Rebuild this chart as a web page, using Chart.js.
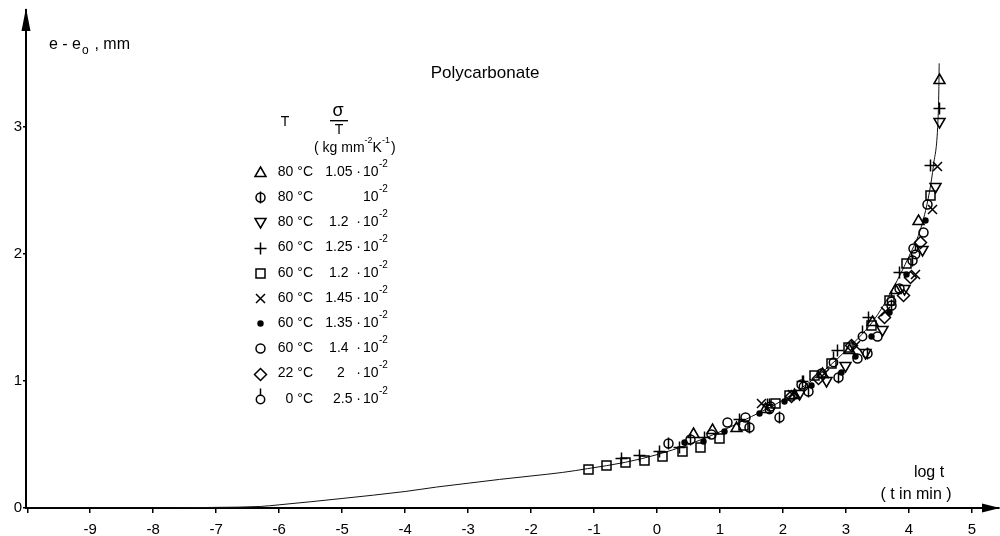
<!DOCTYPE html>
<html>
<head>
<meta charset="utf-8">
<script src="https://cdn.jsdelivr.net/npm/chart.js@4.4.0/dist/chart.umd.min.js"></script>
<style>
html, body { margin: 0; padding: 0; background: #fff; }
#wrap { width: 1000px; height: 536px; }
</style>
</head>
<body>
<div id="wrap"><canvas id="creep" width="1000" height="536"></canvas></div>
<script>
// master curve drawn through the points (log t, e - e0)
const curveLogT = [-10, -8, -7, -6.3, -6, -5, -4, -3.5, -3, -2.5, -2, -1.5, -1.1, -0.5, 0, 0.5, 1, 1.5, 2, 2.5, 3, 3.5, 4, 4.2, 4.33, 4.39, 4.46, 4.475, 4.48];
const curveVal  = [0, 0, 0.005, 0.012, 0.025, 0.075, 0.13, 0.165, 0.195, 0.225, 0.252, 0.28, 0.31, 0.36, 0.42, 0.5, 0.6, 0.72, 0.85, 1.02, 1.24, 1.52, 1.98, 2.22, 2.5, 2.7, 3.04, 3.3, 3.5];

// measured points, [log t, e - e0]
const triUp80   = [[0.57,0.59],[0.87,0.62],[1.25,0.64],[1.72,0.79],[2.18,0.9],[2.62,1.06],[3.05,1.25],[3.42,1.47],[3.78,1.72],[4.15,2.27],[4.47,3.38]];
const phi80     = [[0.18,0.51],[0.52,0.54],[1.46,0.64],[1.93,0.72],[2.4,0.92],[2.88,1.03],[3.33,1.22],[3.72,1.6],[4.05,1.95]];
const triDown80 = [[2.25,0.9],[2.69,1.0],[2.99,1.12],[3.3,1.22],[3.57,1.4],[3.92,1.72],[4.2,2.03],[4.41,2.53],[4.48,3.04]];
const plus60    = [[-0.57,0.39],[-0.29,0.42],[0.03,0.45],[0.35,0.48],[0.74,0.56],[1.3,0.7],[1.75,0.82],[2.3,1.0],[2.85,1.24],[3.35,1.5],[3.85,1.86],[4.34,2.7],[4.48,3.15]];
const square60  = [[-1.09,0.31],[-0.81,0.34],[-0.51,0.36],[-0.2,0.38],[0.08,0.41],[0.4,0.45],[0.68,0.48],[0.98,0.55],[1.36,0.65],[1.88,0.83],[2.09,0.89],[2.49,1.05],[2.77,1.14],[3.04,1.27],[3.39,1.44],[3.68,1.64],[3.96,1.93],[4.33,2.46]];
const cross60   = [[1.65,0.83],[2.15,0.9],[2.65,1.06],[3.15,1.28],[3.62,1.55],[4.1,1.84],[4.37,2.35],[4.44,2.69]];
const dot60     = [[0.43,0.52],[0.73,0.53],[1.06,0.61],[1.62,0.75],[2.02,0.84],[2.45,0.97],[2.92,1.07],[3.15,1.2],[3.39,1.35],[3.68,1.54],[3.96,1.84],[4.26,2.27]];
const circle60  = [[0.86,0.58],[1.11,0.68],[1.39,0.72],[1.8,0.8],[2.28,0.98],[2.6,1.06],[3.17,1.18],[3.49,1.35],[3.84,1.73],[4.07,2.05],[4.23,2.17],[4.28,2.39]];
const diamond22 = [[2.12,0.88],[2.55,1.02],[3.08,1.28],[3.6,1.5],[3.91,1.68],[4.02,1.82],[4.18,2.09]];
const stem0     = [[1.78,0.78],[2.32,0.96],[2.8,1.15],[3.26,1.35],[3.72,1.63],[4.1,2.0]];

const seriesKinds  = ['tri', 'phi', 'invtri', 'plus', 'square', 'times', 'dot', 'circle', 'diamond', 'stem'];
const seriesPoints = [triUp80, phi80, triDown80, plus60, square60, cross60, dot60, circle60, diamond22, stem0];
const legendTemps  = ['80 °C', '80 °C', '80 °C', '60 °C', '60 °C', '60 °C', '60 °C', '60 °C', '22 °C', '0 °C'];
const legendCoefs  = ['1.05 ·', '', '1.2  ·', '1.25 ·', '1.2  ·', '1.45 ·', '1.35 ·', '1.4  ·', '2   ·', '2.5 ·'];

const FONT = "'Liberation Sans', Arial, sans-serif";
const INK = '#000';

function drawShape(ctx, kind, x, y) {
  ctx.save();
  ctx.strokeStyle = INK;
  ctx.fillStyle = INK;
  ctx.lineWidth = 1.5;
  ctx.beginPath();
  switch (kind) {
    case 'tri':
      ctx.moveTo(x, y - 5.5); ctx.lineTo(x + 5.5, y + 4); ctx.lineTo(x - 5.5, y + 4); ctx.closePath(); ctx.stroke();
      break;
    case 'invtri':
      ctx.moveTo(x, y + 5.5); ctx.lineTo(x + 5.5, y - 4); ctx.lineTo(x - 5.5, y - 4); ctx.closePath(); ctx.stroke();
      break;
    case 'phi':
      ctx.arc(x, y, 4.5, 0, Math.PI * 2); ctx.stroke();
      ctx.beginPath(); ctx.moveTo(x, y - 6); ctx.lineTo(x, y + 6); ctx.stroke();
      break;
    case 'plus':
      ctx.moveTo(x - 6, y); ctx.lineTo(x + 6, y); ctx.moveTo(x, y - 6); ctx.lineTo(x, y + 6); ctx.stroke();
      break;
    case 'square':
      ctx.rect(x - 4.5, y - 4.5, 9, 9); ctx.stroke();
      break;
    case 'times':
      ctx.moveTo(x - 4.5, y - 4.5); ctx.lineTo(x + 4.5, y + 4.5);
      ctx.moveTo(x + 4.5, y - 4.5); ctx.lineTo(x - 4.5, y + 4.5); ctx.stroke();
      break;
    case 'dot':
      ctx.arc(x, y, 3.2, 0, Math.PI * 2); ctx.fill();
      break;
    case 'circle':
      ctx.arc(x, y, 4.5, 0, Math.PI * 2); ctx.stroke();
      break;
    case 'diamond':
      ctx.moveTo(x, y - 6); ctx.lineTo(x + 6, y); ctx.lineTo(x, y + 6); ctx.lineTo(x - 6, y); ctx.closePath(); ctx.stroke();
      break;
    case 'stem':
      ctx.arc(x, y, 4.2, 0, Math.PI * 2); ctx.stroke();
      ctx.beginPath(); ctx.moveTo(x, y - 4.2); ctx.lineTo(x, y - 11); ctx.stroke();
      break;
  }
  ctx.restore();
}

function text(ctx, s, x, y, size, align) {
  ctx.font = size + 'px ' + FONT;
  ctx.textAlign = align || 'left';
  ctx.fillText(s, x, y);
  return ctx.measureText(s).width;
}

// markers drawn at the pixel positions that Chart.js computed for each point
const markers = {
  id: 'markers',
  afterDatasetsDraw(chart) {
    const ctx = chart.ctx;
    chart.data.datasets.forEach((ds, i) => {
      if (!ds.kind) return;
      chart.getDatasetMeta(i).data.forEach(pt => {
        drawShape(ctx, ds.kind, Math.round(pt.x) + 0.5, Math.round(pt.y) + 0.5);
      });
    });
  }
};

const decorations = {
  id: 'decorations',
  afterDraw(chart) {
    const ctx = chart.ctx;
    const area = chart.chartArea;
    ctx.save();
    ctx.fillStyle = INK;
    ctx.textBaseline = 'middle';

    // axis arrows
    ctx.beginPath();
    ctx.moveTo(area.left, 8); ctx.lineTo(area.left + 4.5, 31); ctx.lineTo(area.left - 4.5, 31); ctx.closePath(); ctx.fill();
    ctx.beginPath();
    ctx.moveTo(1000, area.bottom); ctx.lineTo(982, area.bottom - 4.5); ctx.lineTo(982, area.bottom + 4.5); ctx.closePath(); ctx.fill();

    // axis titles
    let w = text(ctx, 'e - e', 49, 45, 16);
    text(ctx, 'o', 49 + w + 1, 51, 12);
    text(ctx, ' , mm', 49 + w + 9, 45, 16);
    text(ctx, 'log t', 929, 473, 16, 'center');
    text(ctx, '( t in min )', 916, 495, 16, 'center');

    text(ctx, 'Polycarbonate', 485, 73, 17, 'center');

    // legend header
    text(ctx, 'T', 285, 122, 14, 'center');
    text(ctx, 'σ', 338, 111, 18, 'center');
    ctx.fillRect(330, 120, 18, 1.4);
    text(ctx, 'T', 339, 130, 14, 'center');
    let x = 314;
    x += text(ctx, '( kg mm', x, 148, 14);
    x += text(ctx, '-2', x, 141, 9);
    x += text(ctx, 'K', x, 148, 14);
    x += text(ctx, '-1', x, 141, 9);
    text(ctx, ')', x + 1, 148, 14);

    // legend rows
    seriesKinds.forEach((kind, i) => {
      const y = 172 + i * 25.2;
      drawShape(ctx, kind, 260.5, Math.round(y) + 0.5);
      text(ctx, legendTemps[i], 313, y, 14, 'right');
      if (legendCoefs[i]) text(ctx, legendCoefs[i], 361, y, 14, 'right');
      text(ctx, '10', 363, y, 14);
      text(ctx, '-2', 379, y - 8, 10);
    });
    ctx.restore();
  }
};

const datasets = [{
  type: 'line',
  label: 'curve',
  data: curveLogT.map((x, i) => ({ x: x, y: curveVal[i] })),
  borderColor: '#111',
  borderWidth: 1,
  pointRadius: 0,
  cubicInterpolationMode: 'monotone',
  fill: false,
  order: 20
}];

seriesKinds.forEach((kind, i) => {
  datasets.push({
    label: legendTemps[i] + ' ' + legendCoefs[i] + '10^-2',
    kind: kind,
    data: seriesPoints[i].map(p => ({ x: p[0], y: p[1] })),
    pointRadius: 0,
    pointHoverRadius: 0,
    showLine: false,
    order: i
  });
});

new Chart(document.getElementById('creep'), {
  type: 'scatter',
  data: { datasets: datasets },
  options: {
    responsive: false,
    animation: false,
    devicePixelRatio: 1,
    layout: { padding: { top: 10, right: 1, left: 0, bottom: 0 } },
    plugins: {
      legend: { display: false },
      tooltip: { enabled: false }
    },
    scales: {
      x: {
        type: 'linear',
        min: -10.02,
        max: 5.43,
        afterFit: s => { s.height = 28; },
        border: { display: true, color: INK, width: 2 },
        grid: { display: true, drawOnChartArea: false, drawTicks: true, tickLength: 5, color: INK, lineWidth: 1.5 },
        ticks: {
          stepSize: 1,
          includeBounds: false,
          autoSkip: false,
          maxRotation: 0,
          padding: 8,
          color: INK,
          font: { family: FONT, size: 15 },
          callback: v => v <= -10 ? '' : (v < 0 ? '-' + Math.abs(v) : String(v))
        }
      },
      y: {
        type: 'linear',
        min: 0,
        max: 3.92,
        afterFit: s => { s.width = 26; },
        border: { display: true, color: INK, width: 2 },
        grid: { display: true, drawOnChartArea: false, drawTicks: true, tickLength: 3, color: INK, lineWidth: 1.5 },
        ticks: {
          stepSize: 1,
          includeBounds: false,
          padding: 1,
          color: INK,
          font: { family: FONT, size: 15 },
          callback: v => Number.isInteger(v) ? String(v) : ''
        }
      }
    }
  },
  plugins: [markers, decorations]
});
</script>
</body>
</html>
